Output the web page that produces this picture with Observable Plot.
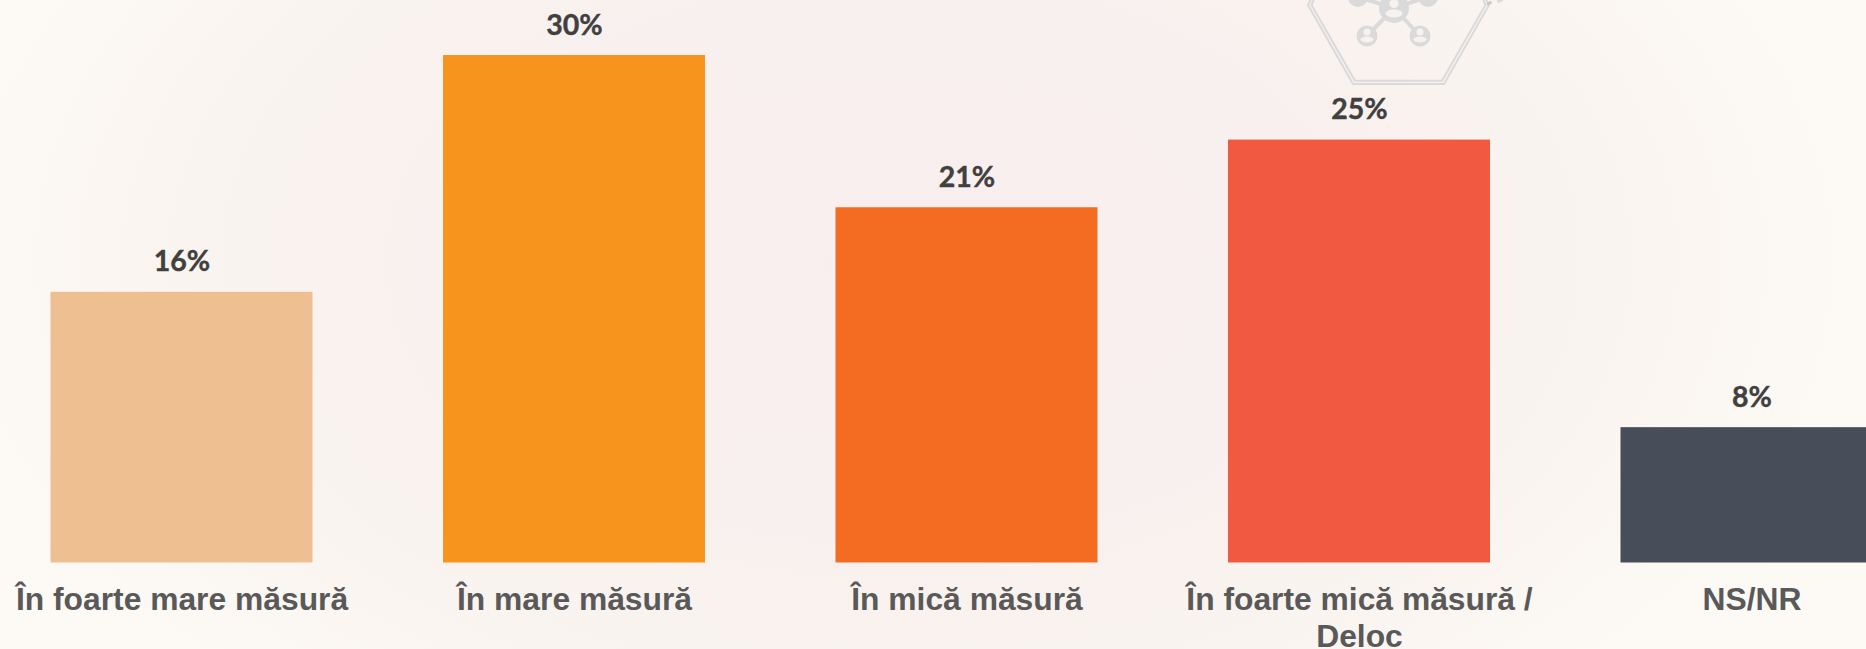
<!DOCTYPE html>
<html><head><meta charset="utf-8">
<script src="https://cdn.jsdelivr.net/npm/d3@7"></script>
<script src="https://cdn.jsdelivr.net/npm/@observablehq/plot@0.6"></script>
<style>
html,body{margin:0;padding:0;overflow:hidden;width:1866px;height:649px;
background:radial-gradient(ellipse 1000px 620px at 900px 260px,#f8eeee 0%,#f8f0ee 45%,#faf5f0 75%,#fdfaf5 100%);}
svg{display:block;background:transparent!important}
</style></head><body>
<div id="chart"></div>
<script>
const categories=["În foarte mare măsură","În mare măsură","În mică măsură","În foarte mică măsură / Deloc","NS/NR"];
const values=[16,30,21,25,8];
const valueLabels=["16%","30%","21%","25%","8%"];
const colors=["#eebf91","#f7941d","#f36c21","#f15a40","#474d59"];
const firstLines=["În foarte mare măsură","În mare măsură","În mică măsură","În foarte mică măsură /","NS/NR"];
const secondLines=["","","","Deloc",""];
const rows=categories.map((c,i)=>({c,v:values[i],l:valueLabels[i],k:colors[i],t1:firstLines[i],t2:secondLines[i]}));

// Decorative watermark icon behind the chart (not data)
function icon(){
  const ink="#dadada", paper="#f8f2ef";
  const g=d3.create("svg:g").attr("fill","none").attr("stroke",ink);
  g.append("path").attr("stroke-width",2).attr("d","M1311 -1L1308 5L1353 84H1444L1489 5L1486 -1");
  g.append("path").attr("stroke-width",2).attr("d","M1314 -1L1311.5 5L1355 80.8H1442L1485.5 5L1483 -1");
  g.append("path").attr("stroke-width",4).attr("d","M1367 36L1394 8L1420 36M1358 -3L1394 8L1428 -3");
  const n=g.append("g").attr("fill",ink).attr("stroke","none");
  [[1367,36,10.5],[1420,36,10.5],[1394,8,15],[1358,-3,10],[1428,-3,10]].forEach(([x,y,r])=>n.append("circle").attr("cx",x).attr("cy",y).attr("r",r));
  const w=g.append("g").attr("fill",paper).attr("stroke","none");
  [[1367,32,3.5],[1420,32,3.5],[1394,3.5,4.5]].forEach(([x,y,r])=>w.append("circle").attr("cx",x).attr("cy",y).attr("r",r));
  [[1367,39.5,6.5,3],[1420,39.5,6.5,3],[1394,13.5,8.5,4]].forEach(([x,y,a,b])=>w.append("ellipse").attr("cx",x).attr("cy",y).attr("rx",a).attr("ry",b));
  g.append("rect").attr("x",1487).attr("y",2).attr("width",5).attr("height",3).attr("fill","#c9c9c9").attr("stroke","none").attr("transform","rotate(-30 1489 4)");
  g.append("rect").attr("x",1497).attr("y",-2).attr("width",6).attr("height",4).attr("fill",ink).attr("stroke","none").attr("transform","rotate(-30 1500 0)");
  return g.node();
}

const tickFont={fontFamily:"Liberation Sans",fontWeight:700,fontSize:31.8,fill:"#595959"};
const plot=Plot.plot({
  width:1866,height:649,margin:0,
  style:{background:"transparent",overflow:"hidden"},
  x:{domain:categories,range:[-80,2013],padding:0.3325,round:false,axis:null},
  y:{domain:[0,30],range:[562.5,55],axis:null},
  color:{type:"identity"},
  marks:[
    icon,
    Plot.barY(rows,{x:"c",y:"v",fill:"k"}),
    Plot.text(rows,{x:"c",y:"v",text:"l",dy:-30,fontFamily:"Lato",fontWeight:700,fontSize:28.5,fill:"#404040",stroke:"#404040",strokeWidth:0.4}),
    Plot.text(rows,{x:"c",y:()=>0,text:"t1",dy:37,...tickFont}),
    Plot.text(rows,{x:"c",y:()=>0,text:"t2",dy:74,...tickFont})
  ]
});
document.getElementById("chart").append(plot);
</script></body></html>
